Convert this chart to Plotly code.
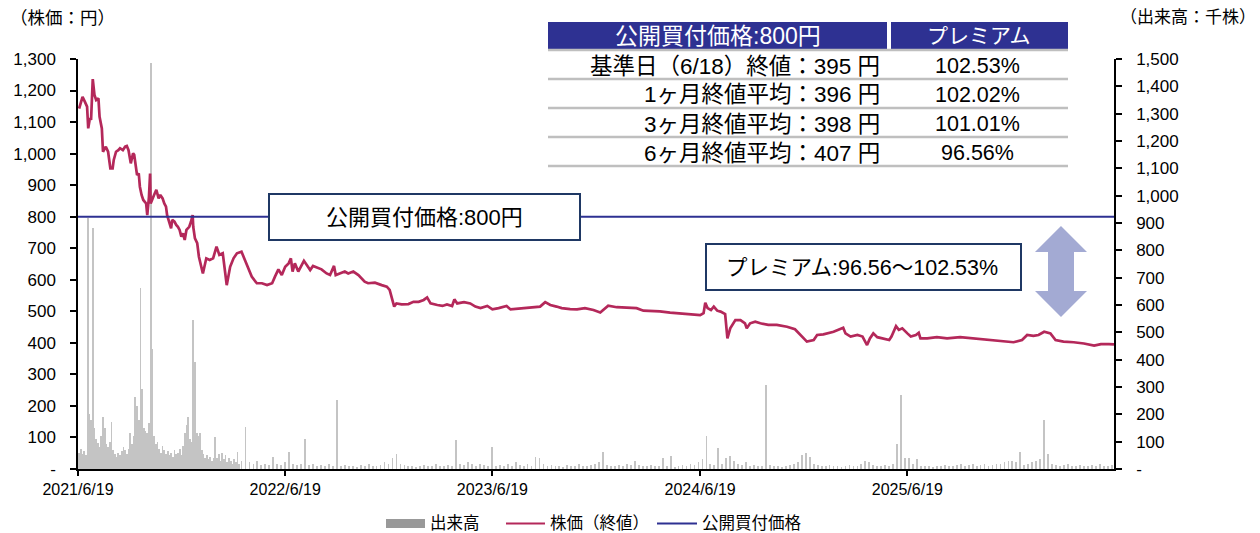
import plotly.graph_objects as go
import pandas as pd

# ---------------- data ----------------
price_dates = [
    "2021-06-21","2021-06-23","2021-06-27","2021-07-01","2021-07-05","2021-07-07","2021-07-10","2021-07-12","2021-07-15","2021-07-18",
    "2021-07-21","2021-07-25","2021-07-27","2021-07-31","2021-08-02","2021-08-07","2021-08-11","2021-08-15","2021-08-19","2021-08-21",
    "2021-08-25","2021-08-29","2021-09-01","2021-09-06","2021-09-10","2021-09-13","2021-09-16","2021-09-20","2021-09-24","2021-09-26",
    "2021-09-29","2021-10-01","2021-10-04","2021-10-06","2021-10-09","2021-10-12","2021-10-17","2021-10-19","2021-10-22","2021-10-24",
    "2021-10-25","2021-10-28","2021-10-31","2021-11-04","2021-11-08","2021-11-11","2021-11-15","2021-11-18","2021-11-21","2021-11-23",
    "2021-11-27","2021-11-30","2021-12-02","2021-12-06","2021-12-09","2021-12-12","2021-12-15","2021-12-18","2021-12-21","2021-12-24",
    "2021-12-27","2022-01-01","2022-01-04","2022-01-07","2022-01-08","2022-01-11","2022-01-15","2022-01-18","2022-01-25","2022-01-31",
    "2022-02-06","2022-02-12","2022-02-18","2022-02-23","2022-03-01","2022-03-08","2022-03-14","2022-03-20","2022-03-26","2022-04-03",
    "2022-04-09","2022-04-15","2022-04-21","2022-04-30","2022-05-09","2022-05-18","2022-05-27","2022-06-01","2022-06-07","2022-06-13",
    "2022-06-19","2022-06-25","2022-06-29","2022-07-02","2022-07-06","2022-07-12","2022-07-18","2022-07-22","2022-07-27","2022-08-02",
    "2022-08-07","2022-08-13","2022-08-22","2022-08-31","2022-09-06","2022-09-13","2022-09-16","2022-09-23","2022-10-02","2022-10-08",
    "2022-10-17","2022-10-26","2022-11-01","2022-11-06","2022-11-12","2022-11-24","2022-12-06","2022-12-15","2022-12-20","2022-12-25",
    "2022-12-28","2023-01-01","2023-01-10","2023-01-22","2023-01-31","2023-02-09","2023-02-18","2023-02-24","2023-03-02","2023-03-14",
    "2023-03-23","2023-03-31","2023-04-09","2023-04-13","2023-04-18","2023-04-30","2023-05-11","2023-05-20","2023-05-29","2023-06-10",
    "2023-06-19","2023-06-30","2023-07-14","2023-07-21","2023-08-01","2023-08-15","2023-08-30","2023-09-11","2023-09-20","2023-09-29",
    "2023-10-10","2023-10-19","2023-11-03","2023-11-15","2023-11-29","2023-12-14","2023-12-26","2024-01-09","2024-01-24","2024-02-11",
    "2024-02-28","2024-03-11","2024-03-29","2024-04-09","2024-04-27","2024-05-15","2024-06-01","2024-06-19","2024-06-25","2024-06-28",
    "2024-07-02","2024-07-08","2024-07-13","2024-07-19","2024-07-25","2024-08-02","2024-08-06","2024-08-11","2024-08-20","2024-08-29",
    "2024-09-06","2024-09-09","2024-09-15","2024-09-24","2024-10-03","2024-10-17","2024-11-01","2024-11-19","2024-12-03","2024-12-15",
    "2024-12-24","2025-01-05","2025-01-11","2025-01-22","2025-02-09","2025-02-26","2025-03-02","2025-03-11","2025-03-23","2025-04-01",
    "2025-04-09","2025-04-14","2025-04-20","2025-04-27","2025-05-09","2025-05-18","2025-05-22","2025-05-26","2025-05-30","2025-06-04",
    "2025-06-10","2025-06-19","2025-06-25","2025-07-04","2025-07-09","2025-07-12","2025-07-24","2025-08-10","2025-08-28","2025-09-20",
    "2025-10-13","2025-11-06","2025-11-30","2025-12-23","2026-01-07","2026-01-16","2026-01-27","2026-02-05","2026-02-15","2026-02-26",
    "2026-03-07","2026-03-21","2026-04-08","2026-04-26","2026-05-14","2026-05-26","2026-06-09","2026-06-18",
]
price_close = [
    1143,1154,1180,1165,1149,1080,1113,1107,1236,1186,
    1170,1175,1117,1080,1006,1022,1006,953,953,980,
    1006,1011,1017,1011,1022,1024,1011,969,1001,996,
    958,932,937,895,869,853,842,805,863,937,
    842,853,869,885,858,869,858,842,832,805,
    784,763,790,784,774,768,758,737,747,726,
    758,768,784,805,768,731,716,673,620,668,
    663,668,705,679,684,583,641,668,684,689,
    663,636,610,589,589,583,589,610,633,615,
    641,652,668,626,652,626,647,660,647,631,
    644,639,633,620,615,644,615,620,626,620,
    626,615,605,594,589,591,583,578,568,536,
    515,525,522,523,530,530,536,544,525,520,
    517,522,517,538,525,529,525,515,510,517,
    506,510,517,506,508,510,515,515,529,520,
    515,510,507,506,510,504,496,518,513,511,
    510,502,502,500,496,494,491,488,494,527,
    510,504,515,502,499,491,414,446,472,472,
    462,446,462,467,462,457,457,451,443,420,
    404,409,425,427,435,448,430,420,425,420,
    393,414,430,418,414,409,420,438,453,441,
    446,430,420,425,432,414,414,418,414,418,
    414,411,407,402,409,425,422,425,435,430,
    409,404,402,398,391,396,396,395,
]

# volume (thousand shares): dense sampling in the first months, weekly afterwards
vol_early_dates = pd.date_range("2021-06-21", periods=95, freq="3D")
vol_early = [
    60,75,55,65,50,917,200,180,880,150,
    110,95,80,120,191,149,90,80,100,173,
    70,55,45,60,50,65,80,70,55,75,
    131,90,120,265,230,180,661,292,150,140,
    130,170,1484,440,120,90,100,75,60,85,
    70,55,65,50,60,45,70,55,60,75,
    50,85,130,160,191,110,100,545,393,131,
    120,133,70,55,40,50,35,45,30,40,
    118,40,55,30,60,35,50,25,40,30,
    20,35,25,63,20,
]
vol_late_dates = pd.date_range("2022-04-03", periods=220, freq="7D")
vol_late = [
    30,152,25,20,30,15,20,15,45,20,
    15,25,62,20,15,20,109,15,20,10,
    15,12,18,10,252,12,15,10,12,8,
    15,10,20,12,10,15,25,20,40,55,
    20,15,10,12,8,10,15,12,10,20,
    12,10,15,12,106,20,15,25,18,12,
    20,15,10,80,12,15,10,18,12,25,
    15,12,20,10,45,40,18,12,15,10,
    12,8,15,10,12,18,10,12,15,20,
    25,62,15,12,10,15,12,20,15,30,
    15,10,12,15,10,12,40,10,49,8,
    10,15,12,20,15,25,35,120,20,15,
    77,18,40,47,30,20,15,25,12,15,
    10,12,307,15,10,12,8,10,15,20,
    25,50,60,45,20,15,12,10,15,12,
    10,8,12,15,10,12,20,30,25,15,
    12,10,15,12,20,91,271,40,40,20,
    35,12,10,12,8,10,12,15,10,12,
    15,20,12,15,18,12,15,20,12,15,
    18,20,25,30,30,25,62,15,20,25,
    30,35,179,55,20,15,12,15,20,12,
    10,15,12,10,15,12,20,10,12,15,
]

offer_price = 800
x_start, x_end = "2021-06-19", "2026-06-18"
x_tick_dates = ["2021-06-19", "2022-06-19", "2023-06-19", "2024-06-19", "2025-06-19"]
x_tick_labels = ["2021/6/19", "2022/6/19", "2023/6/19", "2024/6/19", "2025/6/19"]
price_tick_vals = [0, 100, 200, 300, 400, 500, 600, 700, 800, 900, 1000, 1100, 1200, 1300]
price_tick_labels = ["-", "100", "200", "300", "400", "500", "600", "700", "800", "900",
                     "1,000", "1,100", "1,200", "1,300"]
vol_tick_vals = [0, 100, 200, 300, 400, 500, 600, 700, 800, 900, 1000, 1100, 1200, 1300, 1400, 1500]
vol_tick_labels = ["-", "100", "200", "300", "400", "500", "600", "700", "800", "900",
                   "1,000", "1,100", "1,200", "1,300", "1,400", "1,500"]

table_header = ["公開買付価格:800円", "プレミアム"]
table_labels = ["基準日（6/18）終値：395 円", "1ヶ月終値平均：396 円",
                "3ヶ月終値平均：398 円", "6ヶ月終値平均：407 円"]
table_premiums = ["102.53%", "102.02%", "101.01%", "96.56%"]
offer_label = "公開買付価格:800円"
premium_label = "プレミアム:96.56～102.53%"
legend_labels = ["出来高", "株価（終値）", "公開買付価格"]
left_title = "（株価：円）"
right_title = "（出来高：千株）"

# ---------------- styles / layout helpers ----------------
W, H = 1260, 533
L, R, T, B = 78, 1114, 59, 469
NAVY = "#2e3192"
BOXNAVY = "#1f3864"
CRIMSON = "#b4285a"
VOLGRAY = "#c4c4c4"
FONT = "Liberation Sans, Arial, Noto Sans CJK JP, sans-serif"


def px(x):
    return (x - L) / (R - L)


def py(y):
    return (B - y) / (B - T)


vol_dates = list(vol_early_dates) + list(vol_late_dates)
vol_values = vol_early + vol_late

fig = go.Figure()
fig.add_trace(go.Bar(
    x=vol_dates, y=vol_values, yaxis="y", name=legend_labels[0],
    marker=dict(color=VOLGRAY, line=dict(width=0)),
    width=1.4 * 86400000, showlegend=False,
))
fig.add_trace(go.Scatter(
    x=price_dates, y=price_close, yaxis="y2", mode="lines", name=legend_labels[1],
    line=dict(color=CRIMSON, width=2.7), showlegend=False,
))
fig.add_trace(go.Scatter(
    x=[x_start, x_end], y=[offer_price, offer_price], yaxis="y2", mode="lines",
    name=legend_labels[2], line=dict(color=NAVY, width=2), showlegend=False,
))

shapes = []
annotations = []


def rect(x0, y0, x1, y1, fill, line_color=None, lw=0):
    shapes.append(dict(type="rect", xref="paper", yref="paper",
                       x0=px(x0), x1=px(x1), y0=py(y1), y1=py(y0),
                       fillcolor=fill, line=dict(color=line_color or fill, width=lw),
                       layer="above"))


def hline(x0, x1, y, color, lw):
    shapes.append(dict(type="line", xref="paper", yref="paper",
                       x0=px(x0), x1=px(x1), y0=py(y), y1=py(y),
                       line=dict(color=color, width=lw), layer="above"))


def text(x, y, s, size, xanchor="center", color="#000"):
    annotations.append(dict(xref="paper", yref="paper", x=px(x), y=py(y), text=s,
                            showarrow=False, xanchor=xanchor, yanchor="middle",
                            font=dict(family=FONT, size=size, color=color)))


# table
rect(548, 22, 887, 49, NAVY)
rect(891, 22, 1068, 49, NAVY)
for yy in [50, 79, 108, 137, 166]:
    hline(548, 1068, yy, "#bfbfbf", 2.5)
text(718, 36, table_header[0], 23, color="white")
text(979, 36, table_header[1], 21, color="white")
for yy, lab, prem in zip([66, 95, 124, 153], table_labels, table_premiums):
    text(882, yy, lab, 22.5, xanchor="right")
    text(977, yy, prem, 21.5)

# text boxes
rect(269, 194, 580, 240, "white", BOXNAVY, 2)
text(424.5, 217.5, offer_label, 22)
rect(706, 244, 1021, 290, "white", BOXNAVY, 2)
text(862, 267.5, premium_label, 21.5)

# double arrow
ax, hw, sw = 1061, 26, 13
pts = [(ax, 226), (ax + hw, 252), (ax + sw, 252), (ax + sw, 291), (ax + hw, 291), (ax, 317),
       (ax - hw, 291), (ax - sw, 291), (ax - sw, 252), (ax - hw, 252)]
path = "M " + " L ".join(f"{px(a):.5f},{py(b):.5f}" for a, b in pts) + " Z"
shapes.append(dict(type="path", xref="paper", yref="paper", path=path,
                   fillcolor="#a3aad3", line=dict(width=0), layer="above"))

# axis titles
text(8, 18, left_title, 17.5, xanchor="left")
text(1258, 18, right_title, 17, xanchor="right")

# legend (manual)
rect(386, 519, 425, 528, "#999999")
text(428, 523, legend_labels[0], 16.5, xanchor="left")
hline(506, 545, 523.5, CRIMSON, 2)
text(548, 523, legend_labels[1], 16.5, xanchor="left")
hline(657, 697, 523.5, NAVY, 2)
text(700, 523, legend_labels[2], 16.5, xanchor="left")

axis_common = dict(showline=True, linecolor="black", linewidth=1.5, showgrid=False,
                   zeroline=False, ticks="outside", tickcolor="black", tickwidth=1.5)

fig.update_layout(
    width=W, height=H,
    margin=dict(l=L, r=W - R, t=T, b=H - B, pad=0),
    plot_bgcolor="white", paper_bgcolor="white",
    font=dict(family=FONT, size=16, color="black"),
    showlegend=False, bargap=0,
    xaxis=dict(type="date", range=[x_start, x_end], tickvals=x_tick_dates,
               ticktext=x_tick_labels, ticklen=5,
               tickfont=dict(family=FONT, size=16, color="black"), **axis_common),
    yaxis=dict(side="right", range=[0, 1500], tickvals=vol_tick_vals,
               ticktext=vol_tick_labels, ticklen=6, ticklabelstandoff=11,
               tickfont=dict(family=FONT, size=17, color="black"), **axis_common),
    yaxis2=dict(side="left", overlaying="y", range=[0, 1300], tickvals=price_tick_vals,
                ticktext=price_tick_labels, ticklen=6, ticklabelstandoff=11,
                tickfont=dict(family=FONT, size=17, color="black"), **axis_common),
    shapes=shapes, annotations=annotations,
)

fig.write_html("out.html", config={"displayModeBar": False},
               post_script="document.body.style.margin='0px';")
